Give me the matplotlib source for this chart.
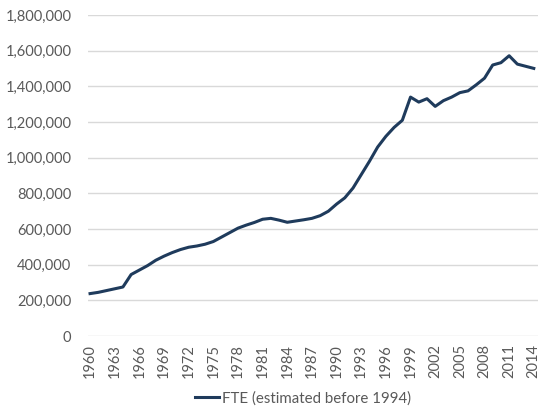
import matplotlib
matplotlib.use("Agg")
import matplotlib.pyplot as plt
import matplotlib.ticker as plticker

years = list(range(1960, 2015))
fte = [
    238000, 245000, 255000, 265000, 275000, 345000, 370000, 395000, 425000, 448000,
    468000, 485000, 498000, 505000, 515000, 530000, 555000, 580000, 605000, 622000,
    637000, 655000, 660000, 650000, 638000, 645000, 652000, 660000, 675000, 700000,
    740000, 775000, 830000, 905000, 980000, 1060000, 1120000, 1170000, 1210000, 1340000,
    1312000, 1331000, 1288000, 1320000, 1340000, 1365000, 1375000, 1409000, 1446000, 1520000,
    1533000, 1572000, 1525000, 1513000, 1501000,
]
tick_years = years[::3]
series_name = "FTE (estimated before 1994)"

plt.rcParams['font.family'] = ['Lato', 'DejaVu Sans']
text_color = '#595959'
line_color = '#1f3b5c'

fig = plt.figure(figsize=(5.5, 4.19), dpi=100)
ax = fig.add_axes([0.16, 0.198, 0.818, 0.766])
ax.plot(years, fte, color=line_color, linewidth=2.2, label=series_name,
        solid_joinstyle='round', zorder=3)

ax.set_xlim(1959.75, 2014.5)
ax.set_ylim(0, 1800000)
ax.yaxis.set_major_locator(plticker.MultipleLocator(200000))
ax.yaxis.set_major_formatter(plticker.FuncFormatter(lambda v, p: '{:,.0f}'.format(v)))
ax.set_xticks(tick_years)
ax.set_xticklabels([str(y) for y in tick_years], rotation=90)

ax.grid(axis='y', color='#d9d9d9', linewidth=1.0, zorder=0)
for s in ax.spines.values():
    s.set_visible(False)
ax.tick_params(axis='both', length=0, colors=text_color, labelsize=10.5)
ax.tick_params(axis='y', pad=12)
ax.tick_params(axis='x', pad=6)

leg = fig.legend(loc='center', bbox_to_anchor=(0.55, 0.05), frameon=False,
                 fontsize=10.8, handlelength=1.6, handletextpad=0.2)
for t in leg.get_texts():
    t.set_color(text_color)

fig.savefig('out.png', dpi=100)
